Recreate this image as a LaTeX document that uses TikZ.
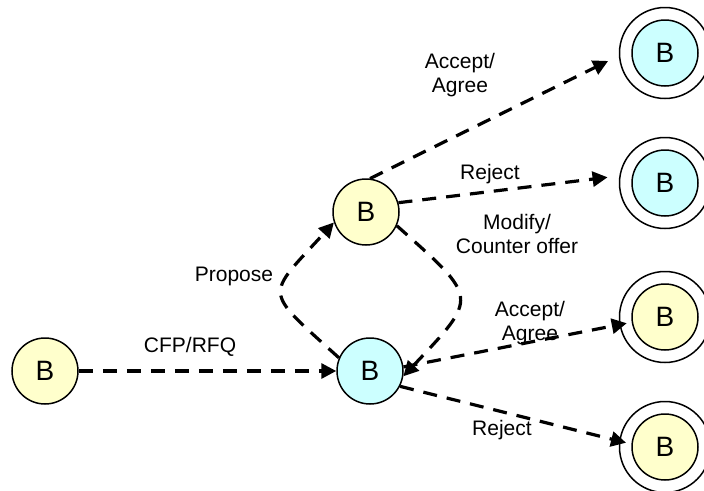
\documentclass[tikz,border=0pt]{standalone}
\usepackage{fontspec}
\setmainfont{Liberation Sans}
\usetikzlibrary{arrows.meta}
\definecolor{paleyellow}{HTML}{FFFFCC}
\definecolor{palecyan}{HTML}{CCFFFF}
\begin{document}
\begin{tikzpicture}[x=1pt,y=-1pt,
  state/.style={circle, draw, line width=1.5pt, minimum size=66pt, inner sep=0pt,
                font=\fontsize{28}{30}\selectfont},
  yel/.style={state, fill=paleyellow},
  cyn/.style={state, fill=palecyan},
  ring/.style={draw, line width=1.5pt},
  msg/.style={line width=3.2pt, dash pattern=on 14pt off 10pt,
              -{Triangle[length=15pt,width=15pt]}},
  lbl/.style={font=\fontsize{21}{24}\selectfont, align=center, anchor=base, inner sep=0pt}]
\useasboundingbox (0,0) rectangle (704,490);

% states
\node[yel] (s) at (45,371) {B};
\node[yel] (u) at (366,212) {B};
\node[cyn] (l) at (370,371) {B};
\node[cyn] (f1) at (665,53) {B};
\node[cyn] (f2) at (665,183) {B};
\node[yel] (f3) at (665,317) {B};
\node[yel] (f4) at (665,447) {B};
% final states get an outer ring
\foreach \f in {f1,f2,f3,f4} \draw[ring] (\f) circle[radius=45.5pt];

% message labels
\node[lbl] (tcfp) at (190,352) {CFP/RFQ};
\node[lbl] (tprop) at (234,281) {Propose};
\node[lbl] (tmod) at (517,253) {Modify/\\Counter offer};
\node[lbl] (tacc1) at (460,92) {Accept/\\Agree};
\node[lbl] (trej1) at (490,179) {Reject};
\node[lbl] (tacc2) at (530,340) {Accept/\\Agree};
\node[lbl] (trej2) at (502,435) {Reject};

% messages
\draw[msg] (s) -- (l);
\draw[msg] (l.157) .. controls (262,288) and (265,298) .. (u.198);
\draw[msg] (u.-24) .. controls (479,299) and (479,296) .. (l.-9);
\draw[msg, shorten >=26pt] (u.83) -- (f1.174);
\draw[msg, shorten >=25pt] (u.16) -- (f2.165);
\draw[msg, shorten >=5pt] (l.7) -- (f3.189);
\draw[msg, shorten >=5.5pt] (l.-27) -- (f4.175);
\end{tikzpicture}
\end{document}
